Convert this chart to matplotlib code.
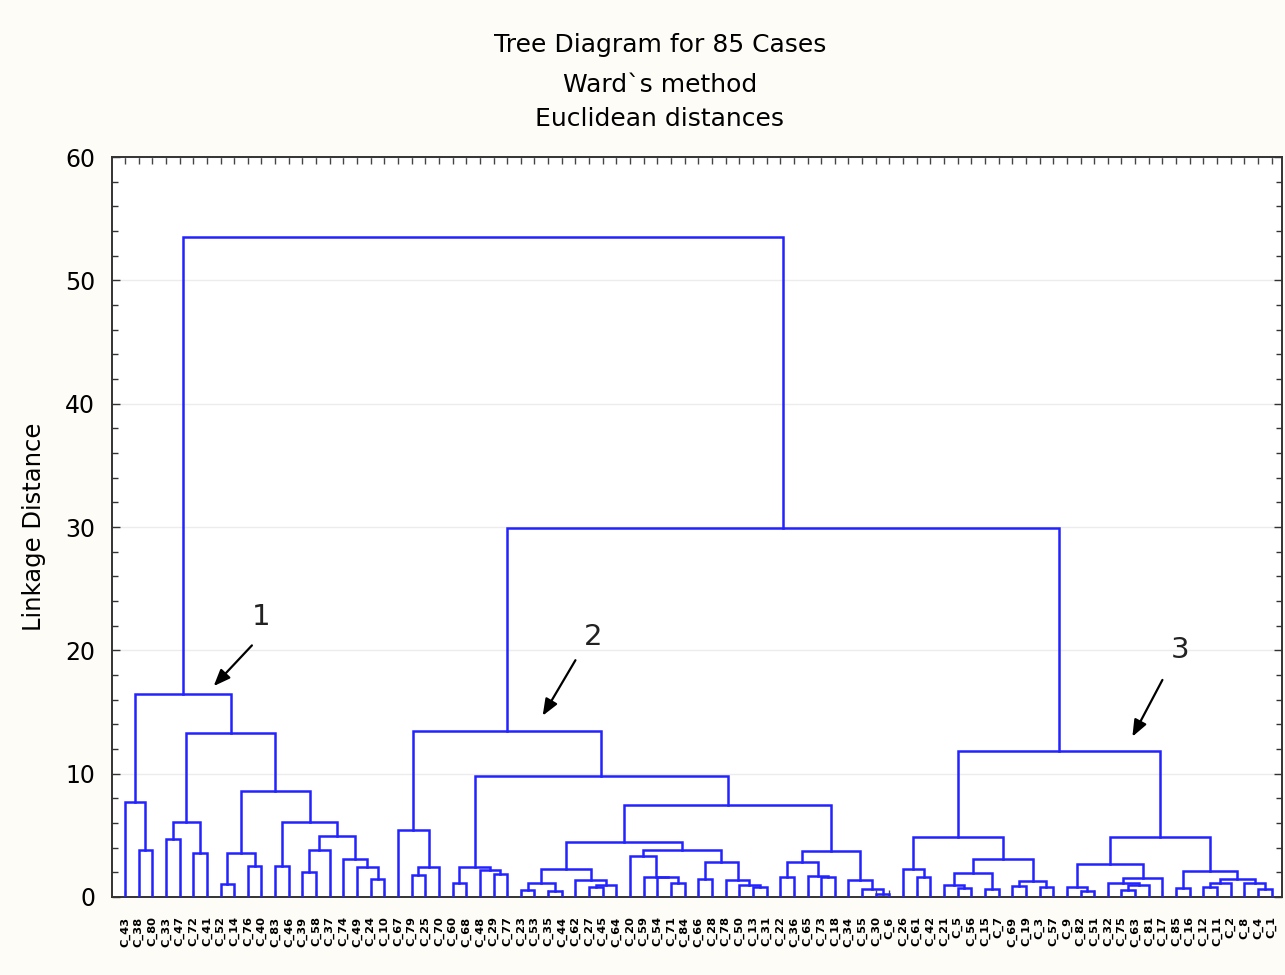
import matplotlib
matplotlib.use("Agg")
import matplotlib.pyplot as plt
from matplotlib.ticker import MultipleLocator

# ---------------- data ----------------
title_lines = ["Tree Diagram for 85 Cases", "Ward`s method", "Euclidean distances"]
y_label = "Linkage Distance"

# case numbers in leaf (display) order
cases_cluster1 = [43, 38, 80, 33, 47, 72, 41, 52, 14, 76, 40, 83, 46, 39, 58, 37, 74, 49, 24, 10]
cases_cluster2 = [67, 79, 25, 70, 60, 68, 48, 29, 77, 23, 53, 35, 44, 62, 27, 45, 64, 20, 59, 54,
                  71, 84, 66, 28, 78, 50, 13, 31, 22, 36, 65, 73, 18, 34, 55, 30, 6]
cases_cluster3 = [26, 61, 42, 21, 5, 56, 15, 7, 69, 19, 3, 57, 9, 82, 51, 32, 75, 63, 81, 17,
                  85, 16, 12, 11, 2, 8, 4, 1]
leaf_labels = ["C_%d" % c for c in cases_cluster1 + cases_cluster2 + cases_cluster3]

# merges as (left, right, linkage distance); ints are leaf positions
cluster1 = (
    (0, (1, 2, 3.81), 7.68),
    (
        ((3, 4, 4.68), (5, 6, 3.54), 6.06),
        (
            ((7, 8, 1.03), (9, 10, 2.54), 3.60),
            ((11, 12, 2.54),
             (((13, 14, 2.05), 15, 3.81), (16, (17, (18, 19, 1.43), 2.41), 3.08), 4.95),
             6.06),
            8.60),
        13.33),
    16.46)

c2_a = (20, ((21, 22, 1.78), 23, 2.46), 5.43)
c2_b = ((24, 25, 1.16), (26, (27, 28, 1.87), 2.19), 2.46)
c2_c1 = (((29, 30, 0.57), (31, 32, 0.49), 1.10), (33, ((34, 35, 0.83), 36, 0.97), 1.40), 2.27)
c2_c2 = ((37, (38, (39, (40, 41, 1.16), 1.60), 1.64), 3.30),
         ((42, 43, 1.43), (44, (45, (46, 47, 0.83), 0.97), 1.38), 2.80),
         3.80)
c2_d = (((48, 49, 1.65), (50, (51, 52, 1.60), 1.68), 2.80),
        (53, (54, (55, 56, 0.24), 0.62), 1.38), 3.70)
cluster2 = (c2_a, (c2_b, ((c2_c1, c2_c2, 4.50), c2_d, 7.46), 9.81), 13.46)

c3_left = ((57, (58, 59, 1.65), 2.27),
           (((60, (61, 62, 0.70), 0.97), (63, 64, 0.65), 1.97),
            ((65, 66, 0.91), (67, 68, 0.78), 1.30), 3.05),
           4.83)
c3_right = (((69, (70, 71, 0.49), 0.83), ((72, ((73, 74, 0.55), 75, 0.95), 1.12), 76, 1.55), 2.65),
            ((77, 78, 0.70), (((79, 80, 0.83), 81, 1.16), (82, (83, 84, 0.65), 1.16), 1.50), 2.10),
            4.88)
cluster3 = (c3_left, c3_right, 11.84)

top_merge_heights = [29.93, 53.53]   # (cluster2+cluster3), then with cluster1
tree = (cluster1, (cluster2, cluster3, top_merge_heights[0]), top_merge_heights[1])

# annotation arrows: (label, text pos, tail, head) in data units
annotations = [
    ("1", (10.0, 22.7), (9.3, 20.4), (6.5, 17.1)),
    ("2", (34.3, 21.1), (33.0, 19.2), (30.6, 14.7)),
    ("3", (77.3, 20.0), (76.0, 17.6), (73.8, 13.0)),
]

# ---------------- plot ----------------
bg = "#fdfcf7"
fig = plt.figure(figsize=(12.85, 9.75), dpi=100, facecolor=bg)
ax = fig.add_axes([112 / 1285, 1 - 897 / 975, 1170 / 1285, 740 / 975])
ax.set_facecolor("white")

line_color = "#2323ff"


def draw(node):
    if isinstance(node, int):
        return float(node), 0.0
    a, b, h = node
    xa, ha = draw(a)
    xb, hb = draw(b)
    ax.plot([xa, xa, xb, xb], [ha, h, h, hb], color=line_color, lw=1.8,
            solid_joinstyle="miter", zorder=3)
    return (xa + xb) / 2.0, h


draw(tree)

n = len(leaf_labels)
ax.set_xlim(-0.95, n - 0.24)
ax.set_ylim(0, 60)

ax.set_xticks(range(n))
ax.set_xticklabels(leaf_labels, rotation=90, fontsize=8.2, color="black",
                   fontweight="bold")
ax.tick_params(axis="x", which="both", direction="in", length=5, width=1,
               color="#444444", top=True, bottom=True, pad=14)
ax.yaxis.set_major_locator(MultipleLocator(10))
ax.yaxis.set_minor_locator(MultipleLocator(2))
ax.tick_params(axis="y", which="major", direction="in", length=6, width=1,
               color="#333333", left=True, right=True, labelsize=17, pad=12)
ax.tick_params(axis="y", which="minor", direction="in", length=4, width=1,
               color="#333333", left=True, right=True)
ax.grid(axis="y", which="major", color="#ececec", lw=1.0, zorder=0)
for s in ax.spines.values():
    s.set_color("#333333")
    s.set_linewidth(1.4)

ax.set_ylabel(y_label, fontsize=17.5)
ax.yaxis.set_label_coords(-(112 - 46) / 1170, 0.5)

ys = [45, 85, 119]
for t, y in zip(title_lines, ys):
    fig.text(660 / 1285, 1 - y / 975, t, ha="center", va="center", fontsize=18)

for lab, tp, tail, head in annotations:
    ax.annotate("", xy=head, xytext=tail,
                arrowprops=dict(arrowstyle="-|>,head_length=1.0,head_width=0.4",
                                color="black", lw=1.6, shrinkA=0, shrinkB=0), zorder=5)
    ax.text(tp[0], tp[1], lab, fontsize=21, ha="center", va="center", color="#222222")

fig.savefig("out.png", dpi=100, facecolor=bg)
